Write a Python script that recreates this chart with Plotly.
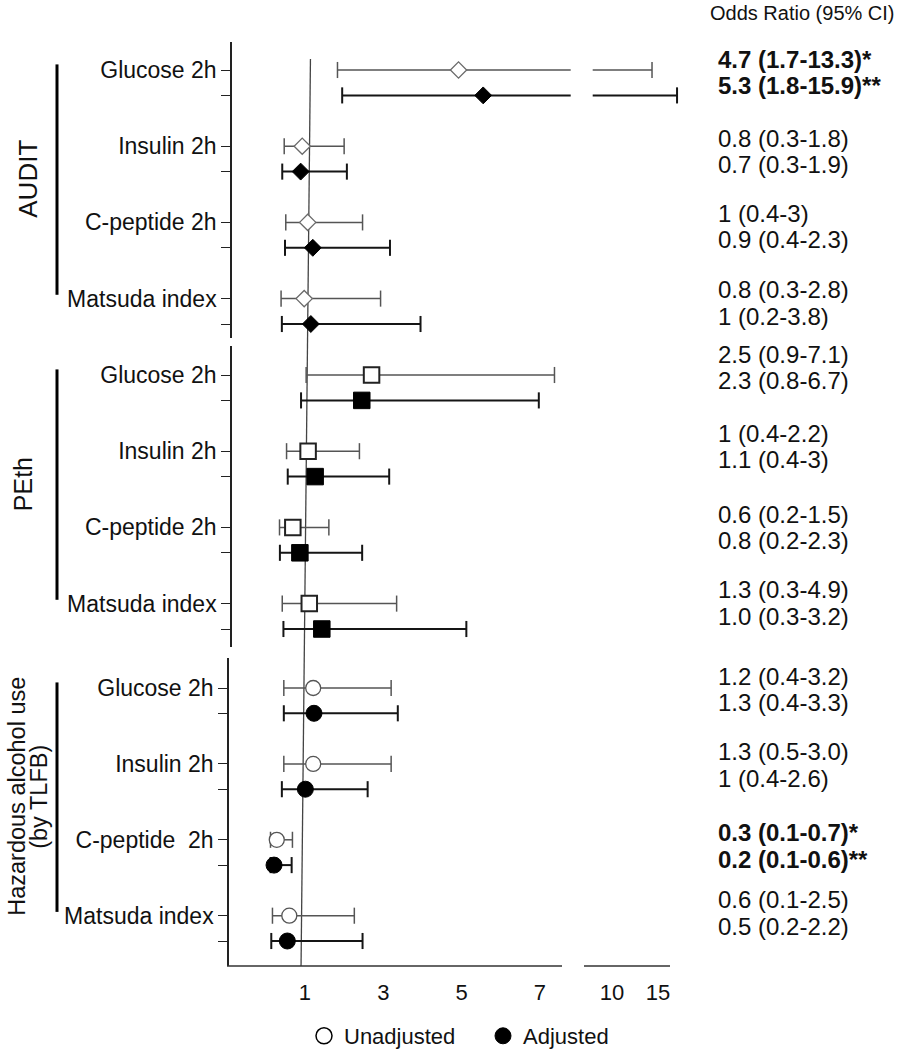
import plotly.graph_objects as go

W, H = 899, 1050
# The page body has a default 8px margin: the figure is first drawn 16px smaller so the page
# fits the window exactly, then the margin is removed and the figure resized to W x H.
PAGE_MARGIN = 8
FONT = "Liberation Sans, Arial, sans-serif"

# ---------------- data ----------------
categories = ["Glucose 2h", "Insulin 2h", "C-peptide 2h", "Matsuda index"]
categories_tlfb = ["Glucose 2h", "Insulin 2h", "C-peptide\u00a0 2h", "Matsuda index"]
group_names = [["AUDIT"], ["PEth"], ["Hazardous alcohol use", "(by TLFB)"]]

# plotted odds ratios and CI ends (as drawn in the figure)
audit_unadj_or = [4.92, 0.93, 1.07, 0.98]
audit_unadj_lo = [1.83, 0.47, 0.51, 0.39]
audit_unadj_hi = [14.35, 2.00, 2.47, 2.93]
audit_adj_or = [5.55, 0.89, 1.20, 1.15]
audit_adj_lo = [1.95, 0.42, 0.49, 0.41]
audit_adj_hi = [17.07, 2.07, 3.17, 3.95]

peth_unadj_or = [2.70, 1.08, 0.69, 1.11]
peth_unadj_lo = [1.03, 0.53, 0.35, 0.42]
peth_unadj_hi = [7.37, 2.39, 1.61, 3.34]
peth_adj_or = [2.45, 1.26, 0.87, 1.43]
peth_adj_lo = [0.90, 0.56, 0.36, 0.45]
peth_adj_hi = [6.97, 3.15, 2.46, 5.12]

tlfb_unadj_or = [1.21, 1.21, 0.28, 0.60]
tlfb_unadj_lo = [0.46, 0.46, 0.12, 0.17]
tlfb_unadj_hi = [3.20, 3.20, 0.68, 2.26]
tlfb_adj_or = [1.23, 1.01, 0.21, 0.55]
tlfb_adj_lo = [0.46, 0.41, 0.12, 0.14]
tlfb_adj_hi = [3.37, 2.60, 0.66, 2.47]

# printed estimates
audit_unadj_txt = ["4.7 (1.7-13.3)*", "0.8 (0.3-1.8)", "1 (0.4-3)", "0.8 (0.3-2.8)"]
audit_adj_txt = ["5.3 (1.8-15.9)**", "0.7 (0.3-1.9)", "0.9 (0.4-2.3)", "1 (0.2-3.8)"]
peth_unadj_txt = ["2.5 (0.9-7.1)", "1 (0.4-2.2)", "0.6 (0.2-1.5)", "1.3 (0.3-4.9)"]
peth_adj_txt = ["2.3 (0.8-6.7)", "1.1 (0.4-3)", "0.8 (0.2-2.3)", "1.0 (0.3-3.2)"]
tlfb_unadj_txt = ["1.2 (0.4-3.2)", "1.3 (0.5-3.0)", "0.3 (0.1-0.7)*", "0.6 (0.1-2.5)"]
tlfb_adj_txt = ["1.3 (0.4-3.3)", "1 (0.4-2.6)", "0.2 (0.1-0.6)**", "0.5 (0.2-2.2)"]
audit_bold = [True, False, False, False]
peth_bold = [False, False, False, False]
tlfb_bold = [False, False, True, False]

left_ticks = [1, 3, 5, 7]
right_ticks = [10, 15]
series_names = ["Unadjusted", "Adjusted"]


# ---------------- layout helpers (window pixels -> paper) ----------------
def px(x):
    return x / W


def py(y):
    return 1 - y / H


# left x axis calibration: value 1 at 305px, 39.17 px per unit
L_PPU, L_ZERO = 39.17, 265.8
L_DOM = (227, 575)
L_RANGE = [(L_DOM[0] - L_ZERO) / L_PPU, (L_DOM[1] - L_ZERO) / L_PPU]
L_LINE_END = (562 - L_ZERO) / L_PPU
BREAK_L = (570.7 - L_ZERO) / L_PPU
# right x axis: 10 at 612px, 9.2 px per unit
R_PPU, R_TEN = 9.2, 612.0
R_DOM = (580, 692)
R_RANGE = [10 + (R_DOM[0] - R_TEN) / R_PPU, 10 + (R_DOM[1] - R_TEN) / R_PPU]
R_LINE = [10 + (584 - R_TEN) / R_PPU, 10 + (670 - R_TEN) / R_PPU]
BREAK_R = 10 + (592.7 - R_TEN) / R_PPU

# y panels (pixel top/bottom of the axis line, pixel of first row, px per row)
panels = [
    dict(top=42, bottom=338, row0=70, ppr=25.4, axpos=231),
    dict(top=346, bottom=647, row0=375, ppr=25.4, axpos=231),
    dict(top=658, bottom=966, row0=688, ppr=25.3, axpos=228),
]

data = [
    (audit_unadj_or, audit_unadj_lo, audit_unadj_hi, audit_adj_or, audit_adj_lo, audit_adj_hi),
    (peth_unadj_or, peth_unadj_lo, peth_unadj_hi, peth_adj_or, peth_adj_lo, peth_adj_hi),
    (tlfb_unadj_or, tlfb_unadj_lo, tlfb_unadj_hi, tlfb_adj_or, tlfb_adj_lo, tlfb_adj_hi),
]
texts = [
    (audit_unadj_txt, audit_adj_txt, audit_bold),
    (peth_unadj_txt, peth_adj_txt, peth_bold),
    (tlfb_unadj_txt, tlfb_adj_txt, tlfb_bold),
]
cats = [categories, categories, categories_tlfb]

symbols = ["diamond", "square", "circle"]
sizes_unadj = [12.5, 15.5, 15]
sizes_adj = [13, 16.5, 16]
open_line = ["#6a6a6a", "#222222", "#555555"]
open_line_w = [1.3, 2.0, 1.3]
bar_color = ["#555555", "#151515"]
bar_width = [1.5, 2.0]

# vertical shift (px) of printed text relative to its row (label layout)
text_offsets = [[-11, -8, -9, -9], [-21, -18, -13, -14], [-12, -12, -7, -16]]

fig = go.Figure()
annotations = []
shapes = []

for p, pan in enumerate(panels):
    yname = "y" if p == 0 else f"y{p + 1}"
    for s in range(2):
        est, lo, hi = data[p][3 * s], data[p][3 * s + 1], data[p][3 * s + 2]
        rows = [3 * g + s for g in range(4)]
        lx, ly, cx, cy, rx, ry, rcx, rcy = [], [], [], [], [], [], [], []
        for e, a, b, r in zip(est, lo, hi, rows):
            cx.append(a)
            cy.append(r)
            if b <= L_LINE_END:
                lx += [a, b, None]
                ly += [r, r, None]
                cx.append(b)
                cy.append(r)
            else:
                lx += [a, BREAK_L, None]
                ly += [r, r, None]
                rx += [BREAK_R, b, None]
                ry += [r, r, None]
                rcx.append(b)
                rcy.append(r)
        line = dict(color=bar_color[s], width=bar_width[s])
        cap = dict(symbol="line-ns", size=11.5, line=dict(color=bar_color[s], width=bar_width[s]))
        fig.add_trace(go.Scatter(x=lx, y=ly, xaxis="x", yaxis=yname, mode="lines",
                                 line=line, showlegend=False, hoverinfo="skip"))
        fig.add_trace(go.Scatter(x=cx, y=cy, xaxis="x", yaxis=yname, mode="markers",
                                 marker=cap, showlegend=False, hoverinfo="skip", cliponaxis=False))
        if rx:
            fig.add_trace(go.Scatter(x=rx, y=ry, xaxis="x2", yaxis=yname, mode="lines",
                                     line=line, showlegend=False, hoverinfo="skip"))
            fig.add_trace(go.Scatter(x=rcx, y=rcy, xaxis="x2", yaxis=yname, mode="markers",
                                     marker=cap, showlegend=False, hoverinfo="skip", cliponaxis=False))
        if s == 0:
            mk = dict(symbol=symbols[p], size=sizes_unadj[p], color="white",
                      line=dict(color=open_line[p], width=open_line_w[p]))
        else:
            mk = dict(symbol=symbols[p], size=sizes_adj[p], color="black",
                      line=dict(color="black", width=1))
        fig.add_trace(go.Scatter(x=est, y=rows, xaxis="x", yaxis=yname, mode="markers",
                                 marker=mk, showlegend=False, cliponaxis=False,
                                 name=series_names[s]))

    # printed estimates
    ut, at, bold = texts[p]
    for g in range(4):
        for s, lab in enumerate([ut[g], at[g]]):
            t = f"<b>{lab}</b>" if bold[g] else lab
            off = text_offsets[p][g] + (1.1 if s else 0)
            annotations.append(dict(
                x=px(716), xref="paper", xanchor="left",
                y=3 * g + s, yref=yname, yanchor="middle", yshift=-off,
                text=t, showarrow=False,
                font=dict(family=FONT, size=24, color="#111111")))

    # group bar
    shapes.append(dict(type="line", xref="paper", yref=yname,
                       x0=px(57), x1=px(57), y0=-0.22, y1=8.85,
                       line=dict(color="black", width=3)))

# group labels (one annotation per text line)
label_x = [[28.5], [23], [17, 39]]
label_size = [26, 25, 23.5]
for p in range(3):
    yname = "y" if p == 0 else f"y{p + 1}"
    for txt, lx_ in zip(group_names[p], label_x[p]):
        annotations.append(dict(
            x=px(lx_), xref="paper", xanchor="center",
            y=4.3, yref=yname, yanchor="middle", textangle=-90,
            text=txt, showarrow=False,
            font=dict(family=FONT, size=label_size[p], color="#111111")))

annotations.append(dict(
    x=px(897), xref="paper", xanchor="right", y=py(13), yref="paper", yanchor="middle",
    text="Odds Ratio (95% CI)", showarrow=False,
    font=dict(family=FONT, size=20, color="#111111")))

# x-axis lines (broken axis) and reference line
shapes.append(dict(type="line", xref="x", yref="paper", x0=L_RANGE[0], x1=L_LINE_END,
                   y0=py(966), y1=py(966), line=dict(color="#333333", width=1.5)))
shapes.append(dict(type="line", xref="x2", yref="paper", x0=R_LINE[0], x1=R_LINE[1],
                   y0=py(966), y1=py(966), line=dict(color="#333333", width=1.5)))
shapes.append(dict(type="line", xref="x", yref="paper", x0=1.14, x1=0.90,
                   y0=py(59), y1=py(966), line=dict(color="#444444", width=1.3),
                   layer="below"))

# legend entries
fig.add_trace(go.Scatter(x=[None], y=[None], mode="markers", name="Unadjusted",
                         marker=dict(symbol="circle", size=16, color="white",
                                     line=dict(color="black", width=1.5))))
fig.add_trace(go.Scatter(x=[None], y=[None], mode="markers", name="Adjusted",
                         marker=dict(symbol="circle", size=16, color="black",
                                     line=dict(color="black", width=1))))

layout = dict(
    width=W - 2 * PAGE_MARGIN, height=H - 2 * PAGE_MARGIN,
    margin=dict(l=0, r=0, t=0, b=0, autoexpand=False),
    paper_bgcolor="white", plot_bgcolor="rgba(0,0,0,0)",
    font=dict(family=FONT, color="#111111"),
    showlegend=True,
    legend=dict(orientation="h", x=px(483), xanchor="center", y=py(1036), yanchor="middle",
                font=dict(family=FONT, size=22, color="#111111"), itemsizing="trace",
                entrywidth=134, entrywidthmode="pixels"),
    annotations=annotations,
    shapes=shapes,
    xaxis=dict(domain=[px(L_DOM[0]), px(L_DOM[1])], range=L_RANGE, anchor="y3",
               showline=False, showgrid=False, zeroline=False,
               tickvals=left_ticks, ticks="outside", ticklen=7, tickcolor="rgba(0,0,0,0)",
               tickfont=dict(family=FONT, size=22, color="#111111")),
    xaxis2=dict(domain=[px(R_DOM[0]), px(R_DOM[1])], range=R_RANGE, anchor="y3",
                showline=False, showgrid=False, zeroline=False,
                tickvals=right_ticks, ticks="outside", ticklen=7, tickcolor="rgba(0,0,0,0)",
                tickfont=dict(family=FONT, size=22, color="#111111")),
)

for p, pan in enumerate(panels):
    key = "yaxis" if p == 0 else f"yaxis{p + 1}"
    r_top = (pan["top"] - pan["row0"]) / pan["ppr"]
    r_bot = (pan["bottom"] - pan["row0"]) / pan["ppr"]
    tv, tt = [], []
    for g, c in enumerate(cats[p]):
        tv += [3 * g, 3 * g + 1]
        tt += [c, ""]
    layout[key] = dict(
        domain=[py(pan["bottom"]), py(pan["top"])], range=[r_bot, r_top],
        anchor="free", position=px(pan["axpos"]),
        showline=True, linecolor="#222222", linewidth=1.5,
        showgrid=False, zeroline=False,
        tickvals=tv, ticktext=tt, ticks="outside", ticklen=9, tickwidth=1.3,
        tickcolor="#222222",
        tickfont=dict(family=FONT, size=23, color="#111111"))

fig.update_layout(**layout)

post = (
    "document.body.style.margin='0';"
    "document.body.style.overflow='hidden';"
    f"Plotly.relayout('{{plot_id}}', {{width: {W}, height: {H}}});"
)
fig.write_html("out.html", config={"displayModeBar": False}, post_script=post)
